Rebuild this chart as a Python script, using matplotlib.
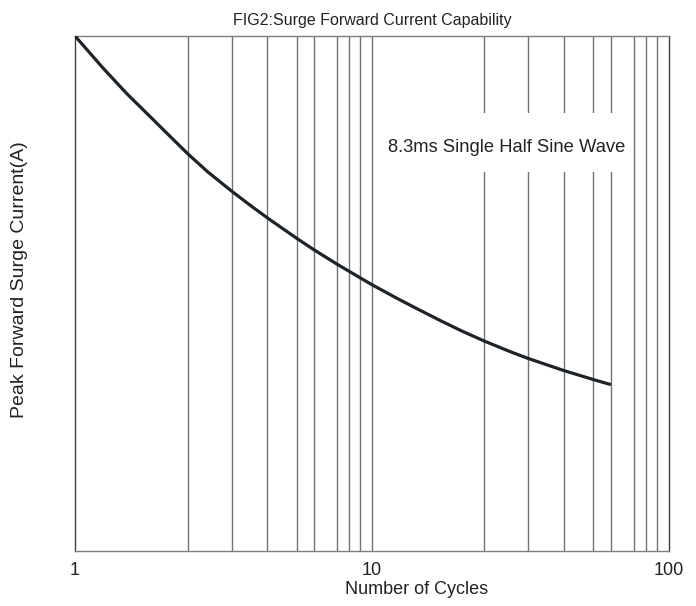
import matplotlib
matplotlib.use('Agg')
import matplotlib.pyplot as plt
from matplotlib.patches import Rectangle

plt.rcParams['font.family'] = ['Liberation Sans', 'DejaVu Sans']

# curve (cycles, % of peak surge current)
cycles = [1, 1.25, 1.5, 1.83, 2.09, 2.4, 2.8, 3.38, 4.0, 4.54, 5.55, 6.33,
          7.62, 9.18, 10, 12.1, 14, 16.9, 20, 23.8, 29.2, 33.5, 43.9, 55.5,
          63.8]
surge = [100, 93.6, 88.7, 83.8, 80.5, 77.1, 73.6, 69.8, 66.6, 64.3, 60.8,
         58.6, 55.7, 52.95, 51.7, 49.1, 47.2, 44.8, 42.75, 40.8, 38.7, 37.4,
         35.1, 33.3, 32.3]

# vertical grid lines as drawn in the reference
grid_x = [2.41, 3.37, 4.42, 5.57, 6.39, 7.65, 8.36, 9.14, 10,
          23.9, 33.6, 44.3, 55.6, 63.8, 76.4, 83.6, 91.4]
tick_vals = [1, 10, 100]
tick_labels = ['1', '10', '100']

txt = '#222222'

fig = plt.figure(figsize=(6.96, 6.06), dpi=100)
ax = fig.add_axes([0.1078, 0.0908, 0.8534, 0.8498])

ax.set_xscale('log')
ax.set_xlim(1, 100)
ax.set_ylim(0, 100)

for gx in grid_x:
    ax.axvline(gx, color='#6f7378', linewidth=1.0, zorder=1)

# white patch behind the annotation
ax.add_patch(Rectangle((0.513, 0.736), 0.421, 0.114, transform=ax.transAxes,
                       facecolor='white', edgecolor='none', zorder=2))
ax.text(28.5, 78.3, '8.3ms Single Half Sine Wave', fontsize=13.2,
        color=txt, ha='center', va='center', zorder=3)

ax.plot(cycles, surge, color='#1e2328', linewidth=2.3,
        solid_capstyle='butt', solid_joinstyle='round', zorder=4)

ax.set_xticks(tick_vals)
ax.set_xticklabels(tick_labels)
ax.minorticks_off()
ax.set_yticks([])
ax.tick_params(axis='x', length=0, pad=8, labelsize=13, colors=txt)

for side in ['left', 'right']:
    ax.spines[side].set_color('#3a3e44')
for side in ['top', 'bottom']:
    ax.spines[side].set_color('#7a7e83')
for s in ax.spines.values():
    s.set_linewidth(1.0)

ax.set_title('FIG2:Surge Forward Current Capability', fontsize=11.5,
             color=txt, pad=8)
fig.text(417 / 696, 1 - 589 / 606, 'Number of Cycles', fontsize=13,
         color=txt, ha='center', va='center')
fig.text(20 / 696, 1 - 280 / 606, 'Peak Forward Surge Current(A)',
         fontsize=14, color=txt, ha='center', va='center', rotation=90)

fig.savefig('out.png', dpi=100)
